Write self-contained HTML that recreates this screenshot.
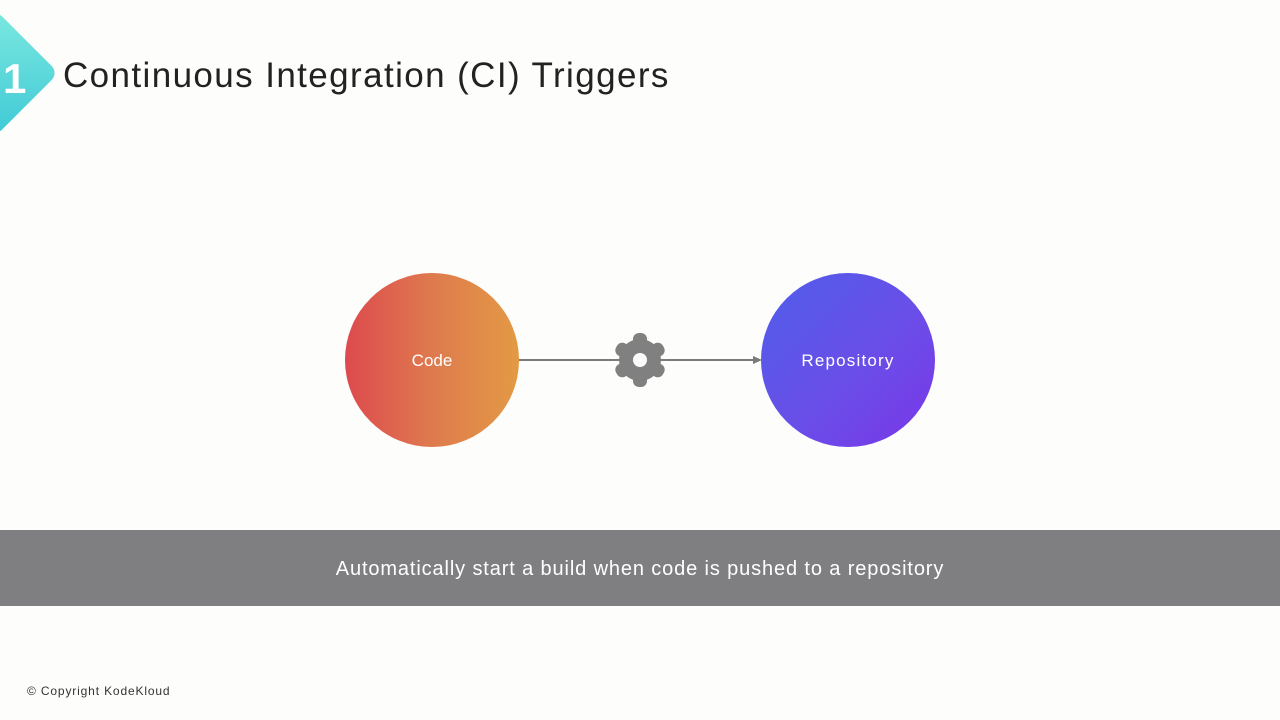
<!DOCTYPE html>
<html><head><style>
body{margin:0;width:1280px;height:720px;background:#fdfdfb;position:relative;overflow:hidden;font-family:"Liberation Sans",sans-serif}
.t{position:absolute;left:63px;top:56px;font-size:35px;color:#222;letter-spacing:1.4px}
.band{position:absolute;left:0;top:530px;width:1280px;height:76px;background:#7f7f81;color:#fff;font-size:20px;text-align:center;line-height:78px;letter-spacing:0.87px}
.c{position:absolute;width:174px;height:174px;border-radius:50%;color:#fff;font-size:17px;text-align:center;line-height:176px;top:273px}
.cp{position:absolute;left:27px;top:684px;font-size:12px;color:#333;letter-spacing:0.85px}
</style></head><body>
<svg width="1280" height="720" style="position:absolute;left:0;top:0">
<defs><linearGradient id="d" x1="0" y1="0" x2="1" y2="1"><stop offset="0" stop-color="#7ce8e0"/><stop offset="1" stop-color="#3fc9d6"/></linearGradient></defs>
<rect x="-50" y="28" width="90" height="90" rx="10" transform="rotate(45 -5 73)" fill="url(#d)"/>
<text x="3" y="93" font-family="Liberation Sans" font-weight="bold" font-size="42" fill="#fff">1</text>
<line x1="518" y1="360" x2="756" y2="360" stroke="#7a7a7a" stroke-width="2"/>
<polygon points="762,360 753,356 753,364" fill="#7a7a7a"/>
<g transform="translate(640,360)" fill="#808080">
<circle r="21"/>
<g>
<rect x="-7" y="-27" width="14" height="16" rx="6"/>
<rect x="-7" y="-27" width="14" height="16" rx="6" transform="rotate(60)"/>
<rect x="-7" y="-27" width="14" height="16" rx="6" transform="rotate(120)"/>
<rect x="-7" y="-27" width="14" height="16" rx="6" transform="rotate(180)"/>
<rect x="-7" y="-27" width="14" height="16" rx="6" transform="rotate(240)"/>
<rect x="-7" y="-27" width="14" height="16" rx="6" transform="rotate(300)"/>
</g>
<circle r="7" fill="#fdfdfb"/>
</g>
</svg>
<div class="t">Continuous Integration (CI) Triggers</div>
<div class="c" style="left:345px;background:linear-gradient(90deg,#dd4a4e,#de7a4e 50%,#e39a44)">Code</div>
<div class="c" style="left:761px;background:linear-gradient(135deg,#4f5eea,#6a4ee8 55%,#7a36e8);letter-spacing:1.2px">Repository</div>
<div class="band">Automatically start a build when code is pushed to a repository</div>
<div class="cp">© Copyright KodeKloud</div>
</body></html>
